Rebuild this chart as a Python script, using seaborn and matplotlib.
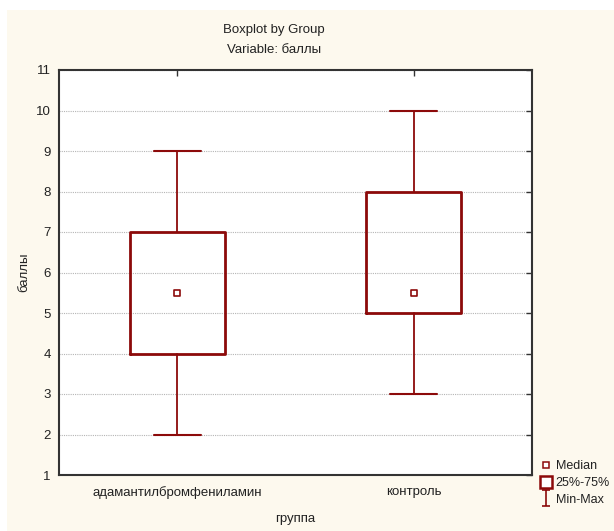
import matplotlib
matplotlib.use("Agg")
import matplotlib.pyplot as plt
from matplotlib.lines import Line2D
from matplotlib.path import Path
from matplotlib.patches import Rectangle
import seaborn as sns
import pandas as pd

groups = ["адамантилбромфениламин", "контроль"]
medians = [5.5, 5.5]
q1 = [4, 5]
q3 = [7, 8]
mins = [2, 3]
maxs = [9, 10]

sns.set_style("white")
plt.rcParams['font.family'] = ['Liberation Sans', 'DejaVu Sans']

RED = "#8c0a0a"
BG = "#fdf9ee"
FS = 9.5

fig = plt.figure(figsize=(6.14, 5.31), dpi=100)
fig.patch.set_facecolor("white")
fig.patches.append(Rectangle((7/614, 0), 1, 1 - 10/531, transform=fig.transFigure,
                             facecolor=BG, edgecolor="none", zorder=-10))

ax = fig.add_axes([59/614, 1 - 475/531, (532 - 59)/614, (475 - 70)/531])
ax.set_facecolor("white")

stats = []
for i, g in enumerate(groups):
    stats.append(dict(label=g, med=medians[i], q1=q1[i], q3=q3[i],
                      whislo=mins[i], whishi=maxs[i], fliers=[]))
positions = list(range(len(groups)))
ax.bxp(stats, positions=positions, widths=0.4, showfliers=False,
       boxprops=dict(color=RED, linewidth=2.0),
       whiskerprops=dict(color=RED, linewidth=1.3),
       capprops=dict(color=RED, linewidth=1.5),
       medianprops=dict(linestyle="none"),
       capwidths=0.2, manage_ticks=False, zorder=3)

df = pd.DataFrame({"pos": positions, "median": medians})
sns.scatterplot(data=df, x="pos", y="median", marker="s", s=22,
                facecolor="white", edgecolor=RED, linewidth=1.2, ax=ax, zorder=4)

ax.set_xlim(-0.5, 1.5)
ax.set_ylim(1, 11)
ax.set_yticks(range(1, 12))
ax.set_xticks(positions)
ax.set_xticklabels(groups)
ax.yaxis.grid(True, linestyle=(0, (1, 1)), color="#b5b5b5", linewidth=0.8)
ax.set_axisbelow(True)
ax.tick_params(axis="both", direction="in", length=4, width=1, color="#333333",
               top=True, right=True, labelsize=FS, labelcolor="#222222", pad=6)
ax.tick_params(axis="x", pad=8)
for s in ax.spines.values():
    s.set_color("#333333")
    s.set_linewidth(1.5)

ax.set_xlabel("группа", fontsize=FS, color="#222222", labelpad=10)
ax.set_ylabel("баллы", fontsize=FS, color="#222222", labelpad=4)

fig.text(274/614, 1 - 30/531, "Boxplot by Group", ha="center", va="center", fontsize=FS, color="#222222")
fig.text(274/614, 1 - 50/531, "Variable: баллы", ha="center", va="center", fontsize=FS, color="#222222")

ipath = Path([(-0.5, 1), (0.5, 1), (0, 1), (0, -1), (-0.5, -1), (0.5, -1)],
             [Path.MOVETO, Path.LINETO, Path.MOVETO, Path.LINETO, Path.MOVETO, Path.LINETO])
handles = [
    Line2D([], [], linestyle="none", marker="s", markersize=4.5, markerfacecolor="white",
           markeredgecolor=RED, markeredgewidth=1.1),
    Line2D([], [], linestyle="none", marker="s", markersize=9, markerfacecolor="white",
           markeredgecolor=RED, markeredgewidth=1.8),
    Line2D([], [], linestyle="none", marker=ipath, markersize=11, markerfacecolor="none",
           markeredgecolor=RED, markeredgewidth=1.2),
]
fig.legend(handles, ["Median", "25%-75%", "Min-Max"], loc="upper left",
           bbox_to_anchor=(535/614, 1 - 454/531), frameon=False, fontsize=9,
           handlelength=0.8, handletextpad=0.35, labelspacing=0.38, borderpad=0,
           labelcolor="#222222")

fig.savefig("out.png", dpi=100, facecolor=fig.get_facecolor())
